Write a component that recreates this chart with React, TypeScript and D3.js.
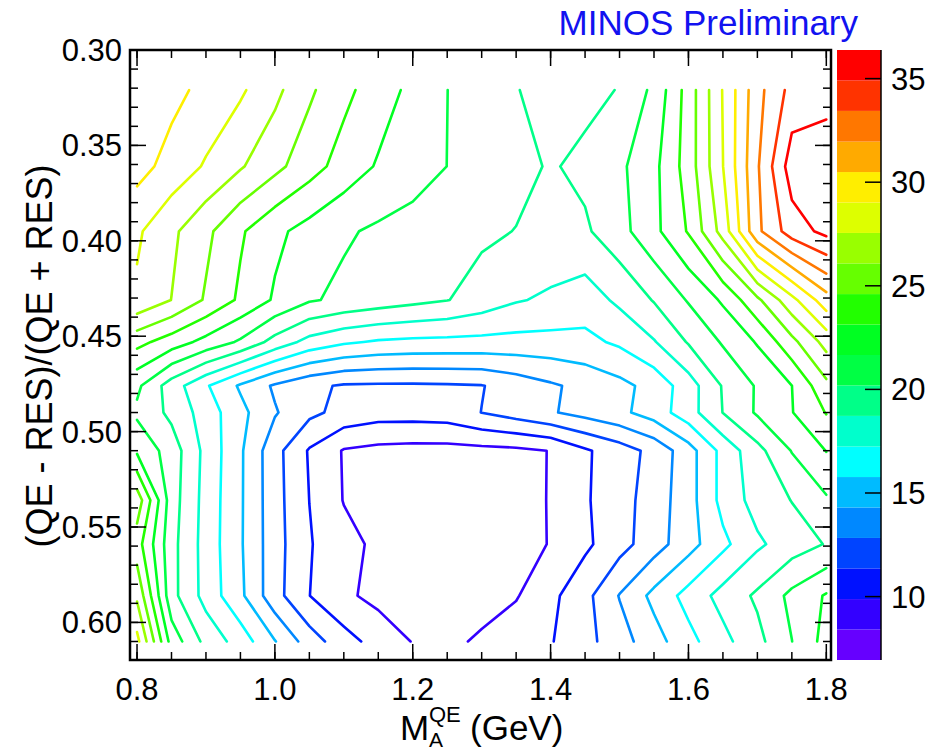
import React from "react";
import * as d3 from "d3";

// ---- grid of the fit surface (columns = M_A^QE, rows = (QE-RES)/(QE+RES)) ----
const xGrid = [0.80, 0.85, 0.90, 0.95, 1.00, 1.05, 1.10, 1.15, 1.20, 1.25, 1.30, 1.35, 1.40, 1.45, 1.50, 1.55, 1.60, 1.65, 1.70, 1.75, 1.80];
const yGrid = [0.321, 0.361, 0.395, 0.431, 0.453, 0.476, 0.490, 0.510, 0.536, 0.559, 0.586, 0.610];

const row0321 = [30.3, 29.45, 28.61, 27.77, 26.47, 24.85, 23.52, 22.37, 21.28, 20.2, 19.49, 18.77, 18.3, 18.3, 18.79, 20.54, 23.76, 27.64, 31.46, 33.95, 34.1];
const row0361 = [29.57, 28.48, 27.39, 26.23, 25.01, 23.74, 22.53, 21.51, 20.84, 20.18, 19.68, 19.17, 18.58, 19.08, 19.9, 21.27, 23.8, 27.53, 31.79, 35.67, 36.2];
const row0395 = [27.78, 26.39, 24.95, 23.32, 22.0, 21.12, 20.38, 19.95, 19.64, 19.32, 19.0, 18.68, 18.3, 18.5, 19.67, 21.27, 23.26, 26.67, 31.64, 34.2, 35.3];
const row0431 = [27.3, 26.06, 24.43, 22.87, 21.48, 20.35, 19.87, 19.5, 19.13, 18.77, 18.09, 17.36, 17.0, 16.5, 17.55, 18.82, 20.32, 21.88, 24.3, 27.12, 29.87];
const row0453 = [23.6, 22.43, 21.2, 19.98, 18.18, 16.74, 16.0, 15.6, 15.45, 15.4, 15.35, 15.3, 15.3, 15.4, 16.02, 17.14, 18.85, 20.35, 21.79, 24.17, 26.62];
const row0476 = [20.5, 17.99, 15.94, 14.1, 12.62, 11.69, 11.2, 11.15, 11.15, 11.2, 11.3, 11.94, 12.62, 13.25, 13.88, 14.81, 16.56, 18.84, 20.35, 21.65, 24.23];
const row0490 = [19.9, 18.36, 16.55, 14.73, 12.96, 11.71, 10.9, 10.5, 10.5, 10.6, 11.38, 12.03, 12.69, 13.33, 13.96, 14.97, 16.61, 18.75, 20.38, 21.6, 23.2];
const row0510 = [21.4, 19.5, 16.8, 14.51, 11.88, 9.74, 8.3, 8.0, 7.9, 7.9, 8.0, 8.1, 8.45, 9.68, 10.66, 11.8, 13.69, 16.24, 18.26, 20.26, 21.7];
const row0536 = [25.5, 19.38, 16.69, 14.49, 11.92, 9.87, 8.35, 7.7, 7.5, 7.5, 7.6, 7.8, 8.5, 9.71, 10.78, 12.04, 13.69, 16.24, 17.83, 18.76, 20.0];
const row0559 = [23.8, 19.2, 16.64, 14.47, 11.96, 9.99, 8.89, 8.1, 7.4, 7.2, 7.3, 7.7, 8.5, 9.59, 10.81, 12.18, 13.73, 15.42, 16.98, 18.0, 18.8];
const row0586 = [25.8, 19.2, 16.7, 14.61, 11.9, 9.9, 8.68, 8.0, 7.5, 7.2, 7.5, 8.3, 9.5, 10.91, 12.9, 14.7, 16.3, 17.76, 18.97, 20.56, 21.8];
const row0610 = [28.0, 21.06, 18.27, 16.57, 14.37, 12.1, 10.47, 9.3, 8.35, 7.9, 8.75, 9.25, 9.78, 10.89, 12.22, 13.7, 15.31, 16.81, 18.29, 20.17, 22.2];

const chi2Rows = [row0321, row0361, row0395, row0431, row0453, row0476, row0490, row0510, row0536, row0559, row0586, row0610];

// ---- colour scale ----
const zMin = 6.94;
const zMax = 36.38;
const contourLevels = [8.41, 9.88, 11.36, 12.83, 14.30, 15.77, 17.24, 18.72, 20.19, 21.66, 23.13, 24.60, 26.08, 27.55, 29.02, 30.49, 31.96, 33.44, 34.91];
const bandColors = ["#6600ff", "#3300ff", "#0011ff", "#0044ff", "#0088ff", "#00bbff", "#00ffff", "#00ffcc", "#00ff88", "#00ff44", "#00ff22", "#22ff00", "#66ff00", "#99ff00", "#ddff00", "#ffee00", "#ffaa00", "#ff7700", "#ff3300", "#ff0000"];

// ---- axes ----
const xMajorTicks = [0.8, 1.0, 1.2, 1.4, 1.6, 1.8];
const xTickLabels = ["0.8", "1.0", "1.2", "1.4", "1.6", "1.8"];
const xMinorTicks = [0.8, 0.85, 0.9, 0.95, 1.0, 1.05, 1.1, 1.15, 1.2, 1.25, 1.3, 1.35, 1.4, 1.45, 1.5, 1.55, 1.6, 1.65, 1.7, 1.75, 1.8];
const yMajorTicks = [0.30, 0.35, 0.40, 0.45, 0.50, 0.55, 0.60];
const yTickLabels = ["0.30", "0.35", "0.40", "0.45", "0.50", "0.55", "0.60"];
const yMinorTicks = [0.30, 0.31, 0.32, 0.33, 0.34, 0.35, 0.36, 0.37, 0.38, 0.39, 0.40, 0.41, 0.42, 0.43, 0.44, 0.45, 0.46, 0.47, 0.48, 0.49, 0.50, 0.51, 0.52, 0.53, 0.54, 0.55, 0.56, 0.57, 0.58, 0.59, 0.60, 0.61];
const zTicks = [10, 15, 20, 25, 30, 35];

const FONT = "'Liberation Sans', Arial, Helvetica, sans-serif";

function splitRing(ring: number[][], nx: number, ny: number): number[][][] {
  const eps = 1e-6;
  const inside = (p: number[]) =>
    p[0] >= 0.5 - eps && p[0] <= nx - 0.5 + eps && p[1] >= 0.5 - eps && p[1] <= ny - 0.5 + eps;
  const pts = ring.slice(0, ring.length - 1);
  const n = pts.length;
  const flags = pts.map(inside);
  if (flags.every((f) => f)) return [ring];
  const start = flags.indexOf(false);
  const runs: number[][][] = [];
  let cur: number[][] = [];
  for (let k = 1; k <= n; k++) {
    const idx = (start + k) % n;
    if (flags[idx]) cur.push(pts[idx]);
    else {
      if (cur.length >= 2) runs.push(cur);
      cur = [];
    }
  }
  if (cur.length >= 2) runs.push(cur);
  return runs;
}

export default function App() {
  const W = 947, H = 751;
  const fL = 130, fR = 831, fT = 50, fB = 660;
  const cbL = 837, cbR = 881;

  const x = d3.scaleLinear().domain([0.7898, 1.8068]).range([fL, fR]);
  const y = d3.scaleLinear().domain([0.30, 0.6197]).range([fT, fB]);
  const z = d3.scaleLinear().domain([zMin, zMax]).range([fB, fT]);

  const nx = xGrid.length, ny = yGrid.length;
  const colToX = d3.scaleLinear().domain(d3.range(nx)).range(xGrid);
  const rowToY = d3.scaleLinear().domain(d3.range(ny)).range(yGrid);
  const values = chi2Rows.flat();
  const contours = d3.contours().size([nx, ny]).thresholds(contourLevels)(values);

  const line = d3
    .line<number[]>()
    .x((p) => x(colToX(p[0] - 0.5)))
    .y((p) => y(rowToY(p[1] - 0.5)));

  const paths: { d: string; color: string; key: string }[] = [];
  contours.forEach((c, li) => {
    const color = bandColors[li + 1];
    c.coordinates.forEach((poly, pi) => {
      poly.forEach((ring, ri) => {
        splitRing(ring as number[][], nx, ny).forEach((run, si) => {
          paths.push({ d: line(run) || "", color, key: `${li}-${pi}-${ri}-${si}` });
        });
      });
    });
  });

  const bandEdges = [zMin, ...contourLevels, zMax];
  const LBL = 31;

  return (
    <svg width={W} height={H} style={{ position: "absolute", left: 0, top: 0, background: "#fff" }} fontFamily={FONT}>
      <rect x={0} y={0} width={W} height={H} fill="#fff" />
      <defs>
        <clipPath id="frameClip">
          <rect x={fL} y={fT} width={fR - fL} height={fB - fT} />
        </clipPath>
      </defs>

      <g clipPath="url(#frameClip)">
        {paths.map((p) => (
          <path key={p.key} d={p.d} fill="none" stroke={p.color} strokeWidth={2.6} strokeLinejoin="round" strokeLinecap="round" />
        ))}
      </g>

      {/* ticks */}
      <g stroke="#000" strokeWidth={1.5}>
        {xMinorTicks.map((t) => (
          <g key={"xm" + t}>
            <line x1={x(t)} x2={x(t)} y1={fB} y2={fB - 8} />
            <line x1={x(t)} x2={x(t)} y1={fT} y2={fT + 8} />
          </g>
        ))}
        {xMajorTicks.map((t) => (
          <g key={"xM" + t}>
            <line x1={x(t)} x2={x(t)} y1={fB} y2={fB - 16} />
            <line x1={x(t)} x2={x(t)} y1={fT} y2={fT + 16} />
          </g>
        ))}
        {yMinorTicks.map((t) => (
          <g key={"ym" + t}>
            <line x1={fL} x2={fL + 8} y1={y(t)} y2={y(t)} />
            <line x1={fR} x2={fR - 8} y1={y(t)} y2={y(t)} />
          </g>
        ))}
        {yMajorTicks.map((t) => (
          <g key={"yM" + t}>
            <line x1={fL} x2={fL + 16} y1={y(t)} y2={y(t)} />
            <line x1={fR} x2={fR - 16} y1={y(t)} y2={y(t)} />
          </g>
        ))}
      </g>

      <rect x={fL} y={fT} width={fR - fL} height={fB - fT} fill="none" stroke="#000" strokeWidth={2.5} />

      {/* tick labels */}
      {xMajorTicks.map((t, i) => (
        <text key={"xl" + t} x={x(t)} y={700} textAnchor="middle" fontSize={LBL} fill="#000">
          {xTickLabels[i]}
        </text>
      ))}
      {yMajorTicks.map((t, i) => (
        <text key={"yl" + t} x={122} y={y(t) + 11} textAnchor="end" fontSize={LBL} fill="#000">
          {yTickLabels[i]}
        </text>
      ))}

      {/* colour bar */}
      {bandColors.map((c, k) => (
        <rect key={"band" + k} x={cbL} y={z(bandEdges[k + 1])} width={cbR - cbL} height={z(bandEdges[k]) - z(bandEdges[k + 1])} fill={c} />
      ))}
      <line x1={cbR} x2={cbR} y1={fT} y2={fB} stroke="#000" strokeWidth={1.5} />
      {zTicks.map((t) => (
        <g key={"zt" + t}>
          <line x1={cbR} x2={cbR - 16} y1={z(t)} y2={z(t)} stroke="#000" strokeWidth={1.5} />
          <text x={891} y={z(t) + 11} fontSize={LBL} fill="#000">
            {t}
          </text>
        </g>
      ))}

      {/* titles */}
      <text x={858} y={35} textAnchor="end" fontSize={35} fill="#1212f0">
        MINOS Preliminary
      </text>
      <text transform="translate(52,356) rotate(-90)" textAnchor="middle" fontSize={36} fill="#000">
        (QE - RES)/(QE + RES)
      </text>
      <g fill="#000">
        <text x={400} y={740} fontSize={35}>M</text>
        <text x={429} y={722} fontSize={22}>QE</text>
        <text x={429} y={747} fontSize={21}>A</text>
        <text x={470} y={740} fontSize={35}>(GeV)</text>
      </g>
    </svg>
  );
}
